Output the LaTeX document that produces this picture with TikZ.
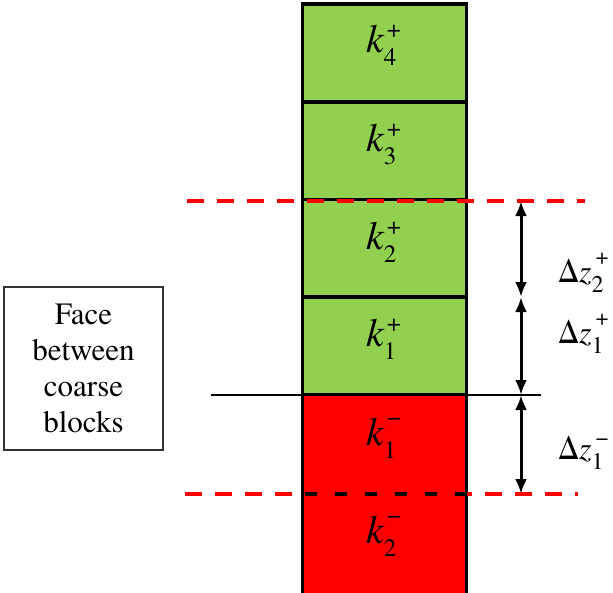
\documentclass[tikz,border=0pt]{standalone}
\usepackage{fontspec}
\setmainfont{texgyretermes-regular.otf}[ItalicFont=texgyretermes-italic.otf,BoldFont=texgyretermes-bold.otf]
\usetikzlibrary{arrows.meta}
\definecolor{cgreen}{HTML}{92D050}
\definecolor{cred}{HTML}{FF0000}
\newcommand{\klab}[3]{{\fontsize{40}{40}\selectfont\itshape k\upshape\rlap{\kern3pt\raisebox{#3}{\fontsize{25}{25}\selectfont #2}}\raisebox{-13pt}{\fontsize{25}{25}\selectfont #1}}}
\newcommand{\dzlab}[3]{{\fontsize{32}{32}\selectfont Δ\itshape z\upshape\rlap{\kern4pt\raisebox{#3}{\fontsize{23}{23}\selectfont #2}}\raisebox{-10pt}{\fontsize{24}{24}\selectfont #1}}}
\begin{document}
\begin{tikzpicture}[x=1pt,y=-1pt,
  cell/.style={draw=black,line width=3.5pt,minimum width=164pt,minimum height=98pt,inner sep=0pt,outer sep=0pt},
  lab/.style={anchor=base west,inner sep=0pt,outer sep=0pt},
  dim/.style={line width=3pt,{Latex[length=15pt,width=12pt]}-{Latex[length=15pt,width=12pt]}},
  reddash/.style={draw=cred,line width=3.5pt,dash pattern=on 17pt off 13pt},
  facebox/.style={draw=black!80,line width=1.2pt,minimum width=159pt,minimum height=163pt,align=center,inner sep=0pt,font=\fontsize{31}{36}\selectfont}]
\useasboundingbox (0,0) rectangle (613,592);
% cells
\node[cell,fill=cgreen] (c4) at (384.5,53) {};
\node[cell,fill=cgreen] (c3) at (384.5,151) {};
\node[cell,fill=cgreen] (c2) at (384.5,248.5) {};
\node[cell,fill=cgreen] (c1p) at (384.5,346) {};
\fill[cred] (302.5,395) rectangle (466.5,600);
\coordinate (bl) at (302.5,395);
\coordinate (br) at (466.5,395);
\coordinate (blb) at (302.5,600);
\coordinate (brb) at (466.5,600);
\node[inner sep=0pt,minimum width=164pt,minimum height=99pt] (c1m) at (384.5,444.5) {};
\node[inner sep=0pt,minimum width=164pt,minimum height=98pt] (c2m) at (384.5,543) {};
\draw[line width=3.5pt] (bl) -- (blb) (br) -- (brb);
% labels
\node[lab] (l4) at (366,52) {\klab{4}{+}{15pt}};
\node[lab] (l3) at (366,151) {\klab{3}{+}{15pt}};
\node[lab] (l2) at (366,249) {\klab{2}{+}{15pt}};
\node[lab] (l1p) at (366,346) {\klab{1}{+}{15pt}};
\node[lab] (l1m) at (366,445) {\klab{1}{−}{20pt}};
\node[lab] (l2m) at (366,543) {\klab{2}{−}{20pt}};
% face line
\coordinate (fl) at (211,395);
\coordinate (fr) at (541,395);
\draw[line width=2.2pt] (fl) -- (fr);
% dashed lines
\coordinate (d1l) at (187,201);
\coordinate (d1r) at (585,201);
\coordinate (d2l) at (185,494);
\coordinate (d2r) at (578,494);
\draw[reddash] (d1l) -- (d1r);
\draw[reddash] (d2l) -- (d2r);
\coordinate (bdl) at (302.5,494);
\coordinate (bdr) at (466.5,494);
\draw[line width=3.5pt,dash pattern=on 12pt off 18pt,dash phase=28pt] (bdl) -- (bdr);
% dimension arrows
\coordinate (a0) at (521,201);
\coordinate (a1) at (521,297);
\coordinate (a2) at (521,395);
\coordinate (a3) at (521,494);
\draw[dim] (a0) -- (a1);
\draw[dim] (a1) -- (a2);
\draw[dim] (a2) -- (a3);
\node[lab] (dz2) at (558,282) {\dzlab{2}{+}{18pt}};
\node[lab] (dz1) at (558,343) {\dzlab{1}{+}{18pt}};
\node[lab] (dz1m) at (558,459) {\dzlab{1}{−}{14pt}};
% face box
\node[facebox] (face) at (83.5,368.5) {Face\\between\\coarse\\blocks};
\end{tikzpicture}
\end{document}
